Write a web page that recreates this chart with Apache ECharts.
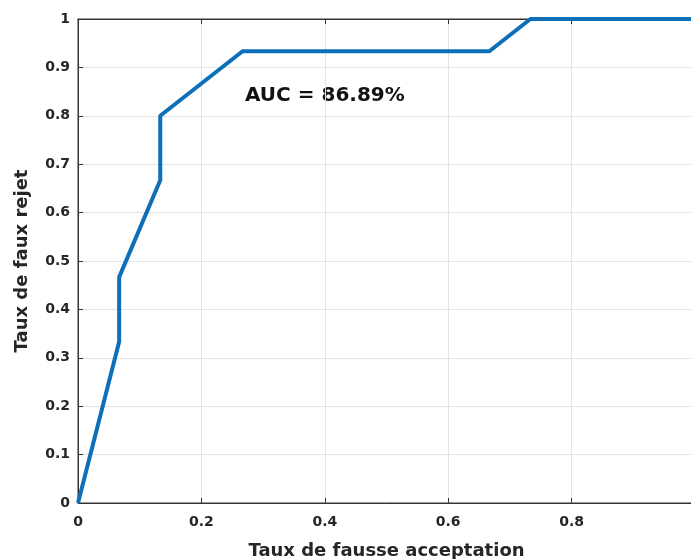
<!DOCTYPE html>
<html>
<head>
<meta charset="utf-8">
<script src="https://cdn.jsdelivr.net/npm/echarts@6/dist/echarts.min.js"></script>
<style>
  html, body { margin: 0; padding: 0; background: #fff; }
  #roc { width: 691px; height: 559px; }
</style>
</head>
<body>
<div id="roc"></div>
<script>
// ROC curve points (fausse acceptation, faux rejet)
var fauxAccept = [0, 0.0667, 0.0667, 0.1333, 0.1333, 0.2667, 0.6667, 0.7333, 1];
var fauxRejet = [0, 0.3333, 0.4667, 0.6667, 0.8, 0.9333, 0.9333, 1, 1];
var aucText = 'AUC = 86.89%';

var rocChart = echarts.init(document.getElementById('roc'));

var fontFam = '"DejaVu Sans", sans-serif';

var option = {
  animation: false,
  grid: {
    left: 78,
    top: 19,
    width: 617,
    bottom: 56,
    outerBoundsMode: 'none',
    containLabel: false,
    show: true,
    borderColor: '#333',
    borderWidth: 1
  },
  xAxis: [
    {
      type: 'value',
      min: 0,
      max: 1,
      interval: 0.2,
      name: 'Taux de fausse acceptation',
      nameLocation: 'middle',
      nameGap: 39,
      nameTextStyle: { color: '#262626', fontSize: 18, fontWeight: 'bold', fontFamily: fontFam },
      axisLine: { show: true, lineStyle: { color: '#333', width: 1 } },
      axisTick: { show: true, inside: true, length: 5, lineStyle: { color: '#333' } },
      axisLabel: { color: '#262626', fontSize: 14, fontWeight: 'bold', fontFamily: fontFam, margin: 12 },
      splitLine: { show: true, lineStyle: { color: '#e3e3e3', width: 1 } }
    },
    {
      type: 'value',
      position: 'top',
      min: 0,
      max: 1,
      interval: 0.2,
      axisLine: { show: true, lineStyle: { color: '#333', width: 1 } },
      axisTick: { show: true, inside: true, length: 5, lineStyle: { color: '#333' } },
      axisLabel: { show: false },
      splitLine: { show: false }
    }
  ],
  yAxis: {
    type: 'value',
    min: 0,
    max: 1,
    interval: 0.1,
    name: 'Taux de faux rejet',
    nameLocation: 'middle',
    nameGap: 47,
    nameTextStyle: { color: '#262626', fontSize: 18, fontWeight: 'bold', fontFamily: fontFam },
    axisLine: { show: true, lineStyle: { color: '#333', width: 1 } },
    axisTick: { show: true, inside: true, length: 5, lineStyle: { color: '#333' } },
    axisLabel: { color: '#262626', fontSize: 14, fontWeight: 'bold', fontFamily: fontFam, margin: 8 },
    splitLine: { show: true, lineStyle: { color: '#e3e3e3', width: 1 } }
  },
  graphic: [
    {
      type: 'text',
      left: 245,
      top: 86,
      style: {
        text: aucText,
        fill: '#111',
        font: 'bold 20px "DejaVu Sans", sans-serif'
      }
    }
  ],
  series: [
    {
      type: 'line',
      data: fauxAccept.map(function (x, i) { return [x, fauxRejet[i]]; }),
      showSymbol: false,
      clip: false,
      lineStyle: { color: '#0d6fb8', width: 4 }
    }
  ]
};

rocChart.setOption(option);
</script>
</body>
</html>
